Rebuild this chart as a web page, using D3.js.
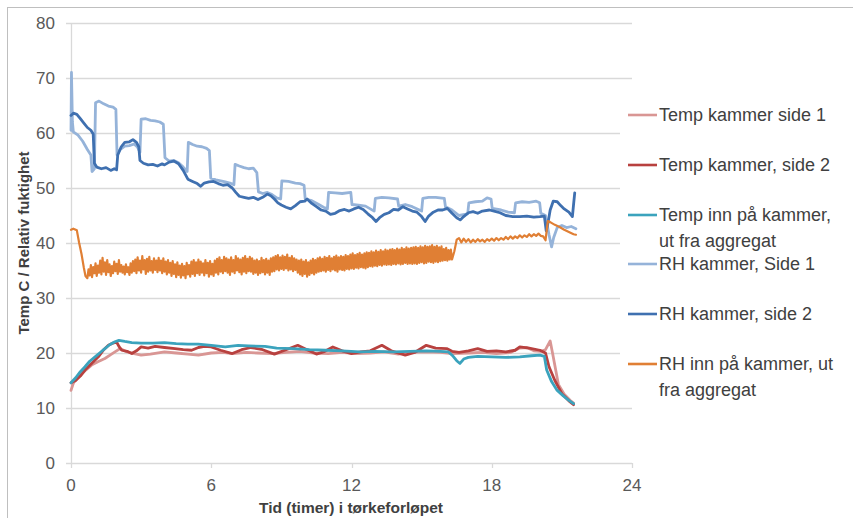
<!DOCTYPE html>
<html>
<head>
<meta charset="utf-8">
<script src="https://cdn.jsdelivr.net/npm/d3@7"></script>
<style>
html,body{margin:0;padding:0;background:#fff;}
svg{display:block;}
text{font-family:"Liberation Sans",Arial,sans-serif;}
</style>
</head>
<body>
<svg id="chart" width="853" height="518"></svg>
<script>
// ---------- DATA ----------
const xTicks = [0, 6, 12, 18, 24];
const yTicks = [0, 10, 20, 30, 40, 50, 60, 70, 80];
const xTitle = "Tid (timer) i tørkeforløpet";
const yTitle = "Temp C / Relativ fuktighet";

const seriesNames = [
  "Temp kammer side 1",
  "Temp kammer, side 2",
  "Temp inn på kammer, ut fra aggregat",
  "RH kammer, Side 1",
  "RH kammer, side 2",
  "RH inn på kammer, ut fra aggregat"
];
const legendLines = [
  ["Temp kammer side 1"],
  ["Temp kammer, side 2"],
  ["Temp inn på kammer,", "ut fra aggregat"],
  ["RH kammer, Side 1"],
  ["RH kammer, side 2"],
  ["RH inn på kammer, ut", "fra aggregat"]
];
const colors = ["#d99694", "#b8413f", "#3ba3bd", "#95b3d9", "#3f70b0", "#e07f34"];

// [hours, value]
const tempSide1 = [[0,13.2],[0.1,14.5],[0.31,15.7],[0.6,16.8],[0.88,17.8],[1.15,18.4],[1.45,19.0],[1.7,19.7],[1.88,20.2],[2.1,20.8],[2.4,20.2],[2.7,19.9],[3.0,19.6],[3.4,19.8],[4.0,20.2],[4.5,20.0],[5.0,19.8],[5.45,19.6],[6.0,20.0],[6.5,20.1],[6.9,19.9],[7.5,20.1],[8.0,20.0],[8.6,19.9],[9.2,20.1],[9.8,20.3],[10.4,20.0],[11.0,19.9],[11.6,20.1],[12.2,19.9],[12.8,20.0],[13.4,20.2],[14.0,19.8],[14.6,20.1],[15.2,20.2],[15.8,20.1],[16.3,19.9],[17.0,20.0],[17.6,20.1],[18.2,19.9],[18.8,20.1],[19.2,20.9],[19.5,21.0],[19.8,20.4],[20.1,20.3],[20.3,20.6],[20.5,22.2],[20.6,20.0],[20.85,14.3],[21.1,12.5],[21.35,11.4],[21.5,10.9]];

const tempSide2 = [[0,14.6],[0.2,15.0],[0.4,15.8],[0.6,16.9],[0.9,18.2],[1.17,19.3],[1.4,20.6],[1.6,21.4],[1.8,21.8],[1.95,22.0],[2.05,21.2],[2.17,20.5],[2.4,20.3],[2.6,19.9],[2.8,20.4],[3.0,21.1],[3.3,20.9],[3.6,21.2],[4.0,21.0],[4.45,20.8],[4.8,20.6],[5.16,20.5],[5.45,21.0],[5.7,21.2],[6.0,21.1],[6.4,20.5],[6.9,19.9],[7.3,20.6],[7.7,21.0],[8.2,20.6],[8.7,19.8],[9.2,20.6],[9.7,21.4],[10.1,20.6],[10.5,19.8],[10.8,20.2],[11.2,21.1],[11.6,20.4],[12.0,19.9],[12.4,20.2],[12.8,20.4],[13.3,21.4],[13.7,20.4],[14.3,19.6],[14.7,20.1],[15.2,21.4],[15.6,20.9],[16.07,20.8],[16.3,20.3],[16.6,20.1],[17.0,20.4],[17.4,20.8],[17.8,20.3],[18.2,20.4],[18.6,20.2],[19.0,20.5],[19.2,21.1],[19.6,20.9],[20.06,20.5],[20.3,20.0],[20.45,17.5],[20.7,15.0],[21.0,12.6],[21.3,11.3],[21.5,10.6]];

const tempInn = [[0,14.6],[0.2,15.5],[0.4,16.6],[0.6,17.5],[0.8,18.5],[1.03,19.3],[1.25,20.1],[1.45,20.8],[1.65,21.5],[1.88,22.05],[2.05,22.3],[2.3,22.1],[2.6,21.9],[3.0,21.8],[3.5,21.8],[4.0,21.9],[4.5,21.7],[5.0,21.6],[5.45,21.6],[6.0,21.4],[6.6,21.1],[7.15,21.4],[7.6,21.3],[8.3,21.2],[8.8,20.9],[9.5,20.8],[10.2,20.6],[10.9,20.5],[11.6,20.4],[12.36,20.2],[13.0,20.3],[13.8,20.2],[14.5,20.3],[15.2,20.4],[15.8,20.3],[16.15,20.2],[16.35,19.4],[16.5,18.6],[16.64,18.1],[16.8,18.9],[17.0,19.2],[17.4,19.4],[18.0,19.3],[18.6,19.2],[19.2,19.3],[19.7,19.5],[20.06,19.6],[20.25,19.4],[20.35,16.9],[20.56,14.8],[20.78,13.3],[21.06,12.2],[21.3,11.4],[21.5,10.8]];

const rhSide1 = [[0,60.5],[0.02,71],[0.06,62],[0.1,60.2],[0.3,59.6],[0.5,58.5],[0.7,57.0],[0.85,56.0],[0.9,53.0],[1.0,53.5],[1.05,65.5],[1.2,65.8],[1.4,65.3],[1.6,64.9],[1.8,64.7],[1.92,64.3],[1.97,56.0],[2.1,57.0],[2.3,57.6],[2.5,57.7],[2.7,58.0],[2.85,57.4],[2.95,56.5],[3.0,62.5],[3.2,62.6],[3.4,62.3],[3.6,62.2],[3.8,62.0],[3.95,61.6],[4.02,55.5],[4.2,54.9],[4.4,55.0],[4.6,54.6],[4.8,53.8],[4.97,53.0],[5.02,58.3],[5.2,57.9],[5.4,57.6],[5.6,57.5],[5.8,57.2],[5.92,56.8],[5.98,51.8],[6.2,51.5],[6.4,51.3],[6.6,51.1],[6.8,50.9],[6.97,50.6],[7.02,54.3],[7.2,54.0],[7.4,53.7],[7.6,53.5],[7.8,53.6],[7.95,52.8],[8.02,49.3],[8.2,49.0],[8.4,49.2],[8.6,48.8],[8.8,48.2],[8.97,48.0],[9.02,51.3],[9.3,51.2],[9.6,50.9],[9.8,50.8],[9.97,50.5],[10.02,48.0],[10.3,47.7],[10.6,47.0],[10.8,46.5],[10.97,46.2],[11.02,49.2],[11.3,49.1],[11.6,49.0],[11.97,49.2],[12.02,47.0],[12.3,46.9],[12.6,46.7],[12.97,45.8],[13.02,48.1],[13.3,48.3],[13.6,48.2],[13.97,48.0],[14.02,46.7],[14.3,47.0],[14.6,46.6],[15.0,45.8],[15.05,48.1],[15.3,48.3],[15.6,48.3],[15.97,48.1],[16.02,46.6],[16.3,46.0],[16.6,45.0],[16.97,45.3],[17.02,47.3],[17.3,47.5],[17.6,47.6],[17.8,48.2],[17.97,48.0],[18.02,46.3],[18.4,46.0],[18.7,45.6],[18.97,45.5],[19.02,47.3],[19.3,47.5],[19.6,47.4],[19.9,47.6],[20.05,47.3],[20.1,45.4],[20.3,45.0],[20.45,41.5],[20.56,39.3],[20.65,41.0],[20.8,42.8],[21.0,43.2],[21.2,42.8],[21.4,43.0],[21.6,42.6]];

const rhSide2 = [[0,63.2],[0.1,63.6],[0.25,63.4],[0.4,62.6],[0.55,61.8],[0.7,61.0],[0.85,60.5],[0.95,59.8],[1.0,54.5],[1.1,53.8],[1.3,53.5],[1.5,53.7],[1.7,53.2],[1.85,53.5],[1.95,53.3],[2.0,56.0],[2.15,57.5],[2.3,58.3],[2.5,58.4],[2.65,58.8],[2.8,58.3],[2.9,57.5],[2.95,55.0],[3.1,54.5],[3.3,54.2],[3.5,54.3],[3.7,54.0],[3.9,54.4],[4.0,54.2],[4.2,54.7],[4.4,54.9],[4.6,54.4],[4.8,53.2],[5.0,51.6],[5.2,51.2],[5.4,50.8],[5.55,50.3],[5.7,50.9],[5.9,51.1],[6.1,51.2],[6.3,50.8],[6.5,50.5],[6.7,50.6],[6.9,50.0],[7.05,49.2],[7.2,48.5],[7.4,48.3],[7.6,48.1],[7.8,48.3],[8.0,47.9],[8.2,48.3],[8.4,48.9],[8.55,48.6],[8.7,48.0],[8.85,47.3],[9.0,46.9],[9.2,46.5],[9.4,46.2],[9.6,46.8],[9.8,47.5],[10.0,47.6],[10.1,48.0],[10.3,47.2],[10.5,46.6],[10.7,46.0],[10.9,45.8],[11.1,45.2],[11.3,45.4],[11.5,45.9],[11.7,46.1],[11.9,45.8],[12.1,46.2],[12.3,46.5],[12.5,46.1],[12.7,45.3],[12.9,44.6],[13.05,43.9],[13.2,44.6],[13.4,45.2],[13.6,45.5],[13.8,46.1],[14.0,46.0],[14.2,46.6],[14.4,46.2],[14.6,45.8],[14.8,45.6],[15.0,44.8],[15.15,43.9],[15.3,44.9],[15.5,45.6],[15.7,46.0],[15.9,46.0],[16.1,46.3],[16.3,45.4],[16.5,44.6],[16.65,44.2],[16.8,44.8],[17.0,45.5],[17.2,45.7],[17.4,45.4],[17.6,45.8],[17.9,46.0],[18.1,45.8],[18.35,45.5],[18.6,45.0],[18.9,44.8],[19.2,44.8],[19.5,44.9],[19.8,44.7],[20.06,44.8],[20.25,44.9],[20.33,42.2],[20.4,43.5],[20.5,46.0],[20.63,47.6],[20.8,47.5],[20.95,46.8],[21.1,46.2],[21.3,45.6],[21.45,44.8],[21.5,47.0],[21.55,49.1]];

// RH inn: start, noisy middle (every 0.05 h from 0.70 h), end
const rhInnStart = [[0,42.4],[0.1,42.6],[0.25,42.3],[0.35,40.0],[0.45,38.0],[0.55,35.5],[0.62,34.0]];
const rhInnNoiseStart = 0.7;
const rhInnNoiseStep = 0.05;
const rhInnNoise = [
  33.6,35.2,34.1,36.0,33.8,35.6,34.5,36.3,34.0,35.9,34.6,36.8,34.3,37.3,34.8,36.5,34.2,36.9,34.7,36.1,
  34.0,35.8,34.5,36.6,34.9,36.2,34.4,36.9,34.8,36.0,34.6,35.7,34.3,36.1,34.7,35.6,34.2,36.3,34.6,36.7,
  34.9,37.0,34.5,37.4,35.0,36.8,34.6,37.6,35.2,36.9,34.4,37.1,34.8,37.5,35.0,36.7,34.6,37.2,35.1,36.8,
  34.7,37.3,35.0,36.8,34.5,37.2,34.8,36.6,34.3,36.9,34.6,36.4,34.0,36.7,34.4,36.1,33.8,36.5,34.2,35.9,
  33.7,36.2,34.1,35.8,33.6,36.4,34.3,36.0,33.9,36.6,34.4,36.9,34.0,36.5,34.5,37.0,34.2,36.6,34.6,36.3,
  34.1,36.9,34.5,36.4,33.9,36.7,34.3,36.2,34.0,36.8,34.6,37.1,34.3,37.4,34.8,36.9,34.5,37.5,34.9,37.2,
  34.6,37.0,34.2,37.4,34.8,36.9,34.5,37.6,35.0,37.2,34.7,37.0,34.3,37.3,34.8,37.6,34.5,37.1,34.9,37.5,
  34.8,37.2,34.4,36.8,34.6,37.0,34.2,36.7,34.5,37.3,34.7,36.9,34.3,37.1,34.6,36.8,34.2,37.2,34.8,37.4,
  34.9,37.6,35.2,37.8,35.0,37.4,35.3,37.7,35.1,37.5,35.4,37.9,35.0,37.3,35.2,37.6,34.9,37.2,35.1,37.0,
  34.6,36.8,34.3,37.0,34.0,36.6,34.4,36.9,33.9,36.5,34.2,36.8,34.5,37.1,34.3,36.9,34.6,37.2,34.8,37.4,
  34.9,37.1,35.0,37.5,34.8,37.3,35.1,37.6,34.9,37.2,35.2,37.5,35.0,37.7,34.8,37.4,35.2,37.6,35.1,37.5,
  35.0,37.8,35.3,37.6,35.2,37.9,35.4,38.1,35.3,37.8,35.5,38.0,35.4,38.2,35.6,37.9,35.5,38.1,35.4,38.3,
  35.6,38.2,35.8,38.5,35.7,38.3,35.9,38.6,35.8,38.4,36.0,38.7,35.9,38.5,36.1,38.8,36.0,38.6,36.1,38.8,
  36.0,38.9,36.2,38.7,36.1,39.0,36.3,38.8,36.1,39.1,36.2,38.9,36.4,39.2,36.2,39.0,36.3,39.1,36.2,39.2,
  36.3,39.3,36.2,39.1,36.4,39.4,36.5,39.2,36.3,39.5,36.4,39.3,36.6,39.4,36.5,39.6,36.4,39.3,36.6,39.5,
  36.5,39.2,36.7,39.4,36.8,38.9,36.9,39.1,36.8,38.7,37.0,38.8
];
const rhInnEnd = [[16.3,37.0],[16.4,38.5],[16.5,40.6],[16.6,40.9],[16.7,40.1],[16.8,40.8],[16.9,40.2],[17.0,40.7],[17.1,40.1],[17.2,40.6],[17.3,40.2],[17.4,40.7],[17.5,40.3],[17.6,40.6],[17.7,40.2],[17.8,40.7],[17.9,40.4],[18.0,40.8],[18.1,40.4],[18.2,40.9],[18.3,40.5],[18.4,40.9],[18.5,40.6],[18.6,41.1],[18.7,40.7],[18.8,41.2],[18.9,40.8],[19.0,41.2],[19.1,40.9],[19.2,41.4],[19.3,41.0],[19.4,41.4],[19.5,41.1],[19.6,41.6],[19.7,41.2],[19.8,41.6],[19.9,41.3],[20.0,41.7],[20.1,41.3],[20.2,41.2],[20.3,40.5],[20.4,44.0],[20.5,43.8],[20.7,43.3],[20.9,42.9],[21.1,42.4],[21.3,42.0],[21.5,41.6],[21.6,41.5]];

// ---------- CHART ----------
const svg = d3.select("#chart");
const x = d3.scaleLinear().domain([0, 24]).range([71, 632]);
const y = d3.scaleLinear().domain([0, 80]).range([463, 23]);

// outer chart border
svg.append("rect").attr("x", 7.5).attr("y", 7.5).attr("width", 900).attr("height", 600)
  .attr("fill", "#fff").attr("stroke", "#bfbfbf").attr("stroke-width", 1);

// gridlines
svg.append("g").selectAll("line").data(yTicks).join("line")
  .attr("x1", 66).attr("x2", 632)
  .attr("y1", d => Math.round(y(d)) + 0.5).attr("y2", d => Math.round(y(d)) + 0.5)
  .attr("stroke", "#d9d9d9").attr("stroke-width", 1.3);

// y axis line
svg.append("line").attr("x1", 71.5).attr("x2", 71.5).attr("y1", y(80)).attr("y2", y(0))
  .attr("stroke", "#d9d9d9").attr("stroke-width", 1.3);

// x axis ticks
svg.append("g").selectAll("line").data(xTicks).join("line")
  .attr("x1", d => Math.round(x(d)) + 0.5).attr("x2", d => Math.round(x(d)) + 0.5)
  .attr("y1", y(0)).attr("y2", y(0) + 5)
  .attr("stroke", "#d9d9d9").attr("stroke-width", 1.3);

// tick labels
svg.append("g").selectAll("text").data(yTicks).join("text")
  .attr("x", 55).attr("y", d => y(d)).attr("dy", "0.36em")
  .attr("text-anchor", "end").attr("font-size", 17).attr("fill", "#595959")
  .text(d => d);
svg.append("g").selectAll("text").data(xTicks).join("text")
  .attr("x", d => x(d)).attr("y", 491)
  .attr("text-anchor", "middle").attr("font-size", 17).attr("fill", "#595959")
  .text(d => d);

// axis titles
svg.append("text").attr("x", 351).attr("y", 513).attr("text-anchor", "middle")
  .attr("font-size", 15.5).attr("font-weight", "bold").attr("fill", "#404040").text(xTitle);
svg.append("text").attr("transform", "translate(29,243) rotate(-90)").attr("text-anchor", "middle")
  .attr("font-size", 15).attr("font-weight", "bold").attr("fill", "#404040").text(yTitle);

// legend background (covers gridline ends)
svg.append("rect").attr("x", 620).attr("y", 96).attr("width", 233).attr("height", 308).attr("fill", "#fff");

// series lines
const rhInn = rhInnStart
  .concat(rhInnNoise.map((v, i) => [rhInnNoiseStart + i * rhInnNoiseStep, v]))
  .concat(rhInnEnd);
const allSeries = [tempSide1, tempSide2, tempInn, rhSide1, rhSide2, rhInn];
const line = d3.line().x(d => x(d[0])).y(d => y(d[1]));
svg.append("g").selectAll("path").data(allSeries).join("path")
  .attr("d", line).attr("fill", "none")
  .attr("stroke", (d, i) => colors[i])
  .attr("stroke-width", (d, i) => i === 5 ? 2.2 : 2.8)
  .attr("stroke-linejoin", "round").attr("stroke-linecap", "round");

// legend
const legendY = [115, 165, 215, 264, 314, 364];
const lg = svg.append("g").selectAll("g").data(seriesNames).join("g");
lg.append("line").attr("x1", 628).attr("x2", 657)
  .attr("y1", (d, i) => legendY[i]).attr("y2", (d, i) => legendY[i])
  .attr("stroke", (d, i) => colors[i]).attr("stroke-width", 2.6);
lg.append("text").attr("x", 659).attr("font-size", 18).attr("fill", "#404040")
  .each(function(d, i) {
    const t = d3.select(this);
    legendLines[i].forEach((s, k) => {
      t.append("tspan").attr("x", 659).attr("y", legendY[i] + k * 25.5).attr("dy", "0.36em").text(s);
    });
  });
</script>
</body>
</html>
